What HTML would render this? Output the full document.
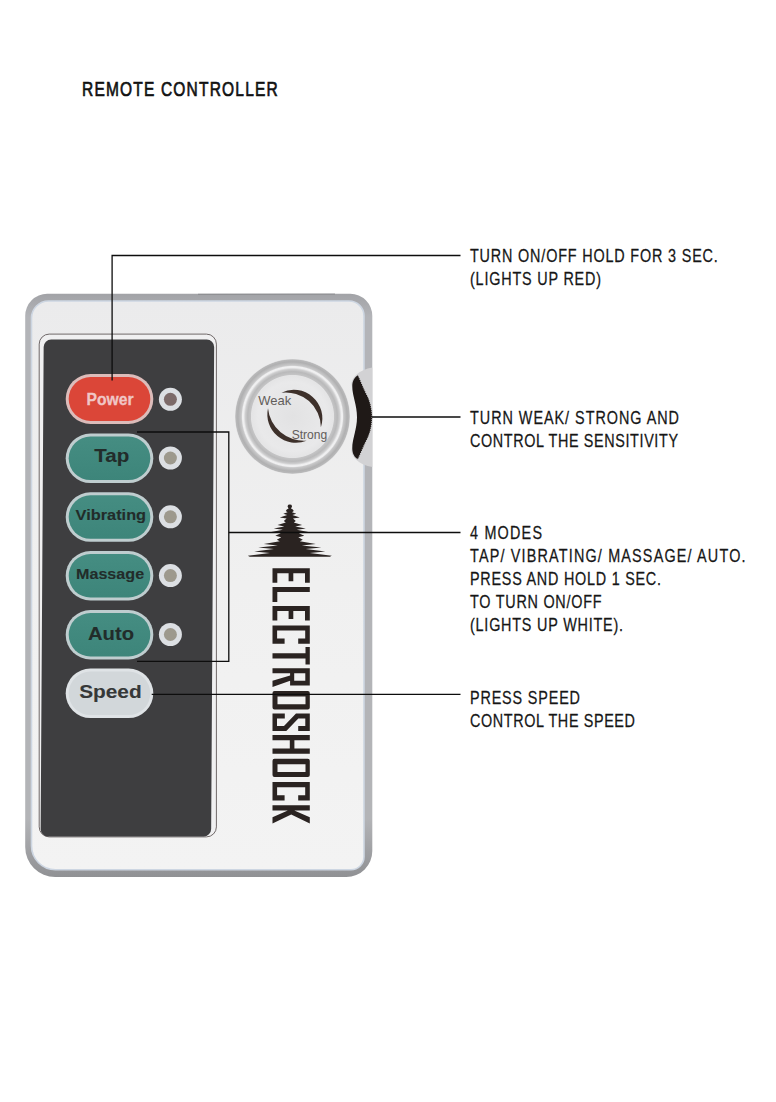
<!DOCTYPE html>
<html><head><meta charset="utf-8">
<style>
*{margin:0;padding:0}
html,body{width:776px;height:1102px;overflow:hidden;background:#fff}
svg{position:absolute;left:0;top:0;font-family:"Liberation Sans",sans-serif}
</style></head>
<body>
<svg width="776" height="1102" viewBox="0 0 776 1102">
<defs>
 <linearGradient id="rimH" x1="0" y1="0" x2="0" y2="1">
  <stop offset="0" stop-color="#a2a3a7"/><stop offset="0.04" stop-color="#b3b4b8"/>
  <stop offset="0.9" stop-color="#b3b4b7"/><stop offset="1" stop-color="#909194"/>
 </linearGradient>
 <linearGradient id="faceG" x1="0" y1="0" x2="0" y2="1">
  <stop offset="0" stop-color="#ebebec"/><stop offset="0.5" stop-color="#f0f0f0"/><stop offset="1" stop-color="#f3f3f3"/>
 </linearGradient>
 <linearGradient id="btnT" x1="0" y1="0" x2="0" y2="1">
  <stop offset="0" stop-color="#458d82"/><stop offset="1" stop-color="#3d857a"/>
 </linearGradient>
 <radialGradient id="dialG" gradientUnits="userSpaceOnUse" cx="292.5" cy="416.5" r="57.5">
  <stop offset="0" stop-color="#e2e2e3"/><stop offset="0.6" stop-color="#e9e9ea"/>
  <stop offset="0.715" stop-color="#e4e4e5"/><stop offset="0.73" stop-color="#c4c4c5"/>
  <stop offset="0.78" stop-color="#b9b9ba"/><stop offset="0.82" stop-color="#cdcdce"/>
  <stop offset="0.85" stop-color="#efeff0"/><stop offset="0.87" stop-color="#f0f0f1"/>
  <stop offset="0.89" stop-color="#c9c9ca"/><stop offset="0.95" stop-color="#b0b0b1"/>
  <stop offset="0.985" stop-color="#b9b9ba"/><stop offset="1" stop-color="#dadadb"/>
 </radialGradient>
</defs>

<!-- heading -->
<text x="110.8" y="96" font-size="21" fill="#111" stroke="#111" stroke-width="0.7" textLength="264.5" lengthAdjust="spacing" transform="scale(0.74,1)">REMOTE CONTROLLER</text>

<!-- body -->
<path d="M47.2,293.8 H350.3 A22,22 0 0 1 372.3,315.8 V851 A26,26 0 0 1 346.3,877 H55.2 A30,30 0 0 1 25.2,847 V315.8 A22,22 0 0 1 47.2,293.8 Z" fill="url(#rimH)"/>
<path d="M48.5,301 H349 A15,15 0 0 1 364,316 V856.8 A13,13 0 0 1 351,869.8 H55.5 A24,24 0 0 1 31.5,845.8 V318 A17,17 0 0 1 48.5,301 Z" fill="url(#faceG)" stroke="#cdd6e2" stroke-width="1.6"/>

<line x1="198" y1="294.3" x2="335" y2="294.1" stroke="#8a8b8e" stroke-width="1"/>
<!-- notch + wheel -->
<path d="M372.3,367.5 C366,368.5 360,371 356,375 C352,379 351,383 351.8,386 C352.5,395 357,405 358.6,417.2 C357,429.4 352.5,439.4 351.8,448.4 C351,451.4 352,455.4 356,459.4 C360,463.4 366,466 372.3,467 Z" fill="#d2d2d4"/>
<path d="M358,375.2 C354.5,377 352.3,381 352.3,386 C352.3,396 357,405 357,417.2 C357,429.4 352.3,438.4 352.3,448.4 C352.3,453.4 354.5,457.4 358,459.2 C360.5,454.4 363,447.4 366,441.4 C370,434.4 372,426.4 372.2,417.2 C372,408 370,400 366,393 C363,387 360.5,380 358,375.2 Z" fill="#1f1917"/>
<path d="M358,459.2 C360.5,454.4 363,447.4 366,441.4 C370,434.4 372,426.4 372.2,417.2 C372,408 370,400 366,393 C363,387 360.5,380 358,375.2" fill="none" stroke="#d2d2d4" stroke-width="1.1" stroke-dasharray="0.9 1.1"/>
<!-- panel -->
<rect x="39.2" y="334.1" width="177.2" height="502.8" rx="10" fill="#f0f0f1" stroke="#6f6868" stroke-width="1"/>
<rect x="43.7" y="339.6" width="170.5" height="496.8" rx="7.5" fill="#3e3e40" transform="matrix(1 0 -0.0062 1 2.1055 0)"/>
<!-- buttons -->
<g>
 <rect x="65.7" y="374" width="87.6" height="50" rx="25" fill="#dcbcba"/>
 <rect x="68.7" y="377" width="81.6" height="44" rx="22" fill="#db4638"/>
 <text x="86.6" y="404.7" font-size="17.4" font-weight="bold" fill="#f0c6c6" stroke="#f0c6c6" stroke-width="0.3" textLength="47" lengthAdjust="spacingAndGlyphs">Power</text>

 <rect x="65.7" y="433.6" width="87.6" height="49.5" rx="24.75" fill="#bfcdcf"/>
 <rect x="68.7" y="436.6" width="81.6" height="43.5" rx="21.75" fill="url(#btnT)"/>
 <text x="94.2" y="461.7" font-size="18.4" font-weight="bold" fill="#222c2a" stroke="#222c2a" stroke-width="0.1" textLength="35" lengthAdjust="spacingAndGlyphs">Tap</text>

 <rect x="65.7" y="492.3" width="87.6" height="49.5" rx="24.75" fill="#bfcdcf"/>
 <rect x="68.7" y="495.3" width="81.6" height="43.5" rx="21.75" fill="url(#btnT)"/>
 <text x="75.6" y="519.5" font-size="15.2" font-weight="bold" fill="#222c2a" stroke="#222c2a" stroke-width="0.1" textLength="70.5" lengthAdjust="spacingAndGlyphs">Vibrating</text>

 <rect x="65.7" y="551" width="87.6" height="49.5" rx="24.75" fill="#bfcdcf"/>
 <rect x="68.7" y="554" width="81.6" height="43.5" rx="21.75" fill="url(#btnT)"/>
 <text x="76" y="579.3" font-size="15.1" font-weight="bold" fill="#222c2a" stroke="#222c2a" stroke-width="0.1" textLength="68.1" lengthAdjust="spacingAndGlyphs">Massage</text>

 <rect x="65.7" y="610" width="87.6" height="49.5" rx="24.75" fill="#bfcdcf"/>
 <rect x="68.7" y="613" width="81.6" height="43.5" rx="21.75" fill="url(#btnT)"/>
 <text x="88" y="640.4" font-size="18.5" font-weight="bold" fill="#222c2a" stroke="#222c2a" stroke-width="0.1" textLength="46" lengthAdjust="spacingAndGlyphs">Auto</text>

 <rect x="65.7" y="668.6" width="87.6" height="49.5" rx="24.75" fill="#dfe3e6"/>
 <rect x="68.7" y="671.6" width="81.6" height="43.5" rx="21.75" fill="#d2d7da"/>
 <text x="79.2" y="698" font-size="18.5" font-weight="bold" fill="#363838" stroke="#363838" stroke-width="0.1" textLength="62.5" lengthAdjust="spacingAndGlyphs">Speed</text>
</g>

<!-- leds -->
<g>
 <circle cx="170.4" cy="399.3" r="11.5" fill="#dcdfe3"/><circle cx="170.4" cy="399.3" r="6.5" fill="#7c6a69"/>
 <circle cx="170.4" cy="458" r="11.5" fill="#dcdfe3"/><circle cx="170.4" cy="458" r="6.5" fill="#9d998d"/>
 <circle cx="170.4" cy="516.8" r="11.5" fill="#dcdfe3"/><circle cx="170.4" cy="516.8" r="6.5" fill="#9d998d"/>
 <circle cx="170.4" cy="575.6" r="11.5" fill="#dcdfe3"/><circle cx="170.4" cy="575.6" r="6.5" fill="#9d998d"/>
 <circle cx="170.4" cy="634.5" r="11.5" fill="#dcdfe3"/><circle cx="170.4" cy="634.5" r="6.5" fill="#9d998d"/>
</g>

<!-- dial -->
<g>
 <circle cx="292.5" cy="416.5" r="57.5" fill="url(#dialG)"/>
 <path d="M268,408.2 A28.5,28.5 0 0 0 306.6,440.7 A36,36 0 0 1 268,408.2 Z" fill="#3d302a"/>
 <path d="M281.4,392.7 A28.5,28.5 0 0 1 320.9,427.3 A35,35 0 0 0 281.4,392.7 Z" fill="#3d302a"/>
 <text x="258.2" y="404.8" font-size="12.2" fill="#625d5a" textLength="33" lengthAdjust="spacingAndGlyphs">Weak</text>
 <text x="291.7" y="439.3" font-size="12.2" fill="#625d5a" textLength="35.6" lengthAdjust="spacingAndGlyphs">Strong</text>
</g>

<!-- logo placeholder -->
<g id="logo" fill="#2a2321" fill-rule="evenodd">
 <path transform="translate(1,0)" d="M288.8,504.6 L290.3,504.8 L291.1,506.3 L290.3,508.0 L290.0,508.6 L291.8,509.5 L292.8,511.0 L291.0,512.2 L295.3,513.8 L291.4,515.0 L298.8,517.4 L292.0,518.6 L294.8,521.0 L292.8,522.5 L301.1,525.0 L294.3,526.5 L304.8,528.4 L295.8,529.8 L307.3,531.9 L297.8,533.2 L303.3,535.8 L297.3,537.3 L301.8,539.8 L298.8,541.2 L314.8,544.0 L300.8,545.4 L320.3,547.6 L304.8,549.0 L324.3,551.6 L308.8,553.0 L330.8,555.8 L328.8,556.8 L248.8,556.8 L246.8,555.8 L268.8,553.0 L253.3,551.6 L272.8,549.0 L257.3,547.6 L276.8,545.4 L262.8,544.0 L278.8,541.2 L275.8,539.8 L280.3,537.3 L274.3,535.8 L279.8,533.2 L270.3,531.9 L281.8,529.8 L272.8,528.4 L283.3,526.5 L276.5,525.0 L284.8,522.5 L282.8,521.0 L285.6,518.6 L278.8,517.4 L286.2,515.0 L282.3,513.8 L286.6,512.2 L284.8,511.0 L285.8,509.5 L287.6,508.6 L287.3,508.0 L286.5,506.3 L287.3,504.8 L288.8,504.6Z"/>
 <path transform="matrix(0 1 -1 0 309.8 568.2)" d="M0,0H14.6V4.8H5.1V16.5H13V21.2H5.1V32.5H14.6V37.3H0Z"/>
 <path transform="matrix(0 1 -1 0 309.8 586.9)" d="M0,0H5.1V32.5H15V37.3H0Z"/>
 <path transform="matrix(0 1 -1 0 309.8 605.9)" d="M0,0H14.6V4.8H5.1V16.5H13V21.2H5.1V32.5H14.6V37.3H0Z"/>
 <path transform="matrix(0 1 -1 0 309.8 625.4)" d="M0,0H18.4V11.6H13.2V4.6H5.2V32.7H13.2V25.2H18.4V37.3H0Z"/>
 <path transform="matrix(0 1 -1 0 309.8 647.1)" d="M0,0H17.4V4.3H11.3V37.3H6.2V4.3H0Z"/>
 <path transform="matrix(0 1 -1 0 309.8 668.2)" d="M0,0H17.4V19.7H12.6L18.8,37.3H12.6L7.2,19.7H5.1V37.3H0Z M5.1,4.5V15.6H12.6V4.5Z"/>
 <path transform="matrix(0 1 -1 0 309.8 691)" d="M2,0H16.4A2,2 0 0 1 18.4,2V35.3A2,2 0 0 1 16.4,37.3H2A2,2 0 0 1 0,35.3V2A2,2 0 0 1 2,0Z M5.5,4.3V32.3H13.3V4.3Z"/>
 <path transform="matrix(0 1 -1 0 309.8 713.5)" d="M0,0H17.4V11.6H12.4V4.5H5.1V11.5L17.4,23.5V37.3H0V25H5.1V32.8H12.4V25.8L0,13.8Z"/>
 <path transform="matrix(0 1 -1 0 309.8 735)" d="M0,0H5.2V15.4H13.5V0H18.7V37.3H13.5V20H5.2V37.3H0Z"/>
 <path transform="matrix(0 1 -1 0 309.8 758.7)" d="M2,0H16.4A2,2 0 0 1 18.4,2V35.3A2,2 0 0 1 16.4,37.3H2A2,2 0 0 1 0,35.3V2A2,2 0 0 1 2,0Z M5.5,4.3V32.3H13.3V4.3Z"/>
 <path transform="matrix(0 1 -1 0 309.8 782.1)" d="M0,0H18.4V11.6H13.2V4.6H5.2V32.7H13.2V25.2H18.4V37.3H0Z"/>
 <path transform="matrix(0 1 -1 0 309.8 805.3)" d="M0,0H5.2V15.5L11.9,0H18.1L9.2,18.6L18.1,37.3H11.9L5.2,22V37.3H0Z"/>
</g>

<!-- leader lines -->
<g fill="none" stroke="#0d0d0d" stroke-width="1.3">
 <polyline points="112.1,380.5 112.1,255.5 460.5,255.5"/>
 <line x1="372" y1="417" x2="460.5" y2="417"/>
 <polyline points="137,432 228.8,432 228.8,661.3 137,661.3"/>
 <line x1="228.8" y1="532.5" x2="460.5" y2="532.5"/>
 <line x1="151.7" y1="694.3" x2="460.5" y2="694.3"/>
</g>

<!-- right text -->
<g font-size="18" fill="#161616" stroke="#161616" stroke-width="0.25" transform="scale(0.8,1)">
 <text x="587.50" y="262" textLength="309.75" lengthAdjust="spacing">TURN ON/OFF HOLD FOR 3 SEC.</text>
 <text x="587.50" y="285" textLength="163.75" lengthAdjust="spacing">(LIGHTS UP RED)</text>
 <text x="587.50" y="424.2" textLength="261.25" lengthAdjust="spacing">TURN WEAK/ STRONG AND</text>
 <text x="587.50" y="447.4" textLength="260.00" lengthAdjust="spacing">CONTROL THE SENSITIVITY</text>
 <text x="587.50" y="539.5" textLength="90.00" lengthAdjust="spacing">4 MODES</text>
 <text x="587.50" y="562.35" textLength="344.38" lengthAdjust="spacing">TAP/ VIBRATING/ MASSAGE/ AUTO.</text>
 <text x="587.50" y="585.2" textLength="238.75" lengthAdjust="spacing">PRESS AND HOLD 1 SEC.</text>
 <text x="587.50" y="608.05" textLength="164.38" lengthAdjust="spacing">TO TURN ON/OFF</text>
 <text x="587.50" y="630.9" textLength="191.25" lengthAdjust="spacing">(LIGHTS UP WHITE).</text>
 <text x="587.50" y="704.3" textLength="137.50" lengthAdjust="spacing">PRESS SPEED</text>
 <text x="587.50" y="727" textLength="206.25" lengthAdjust="spacing">CONTROL THE SPEED</text>
</g>
</svg>
</body></html>
